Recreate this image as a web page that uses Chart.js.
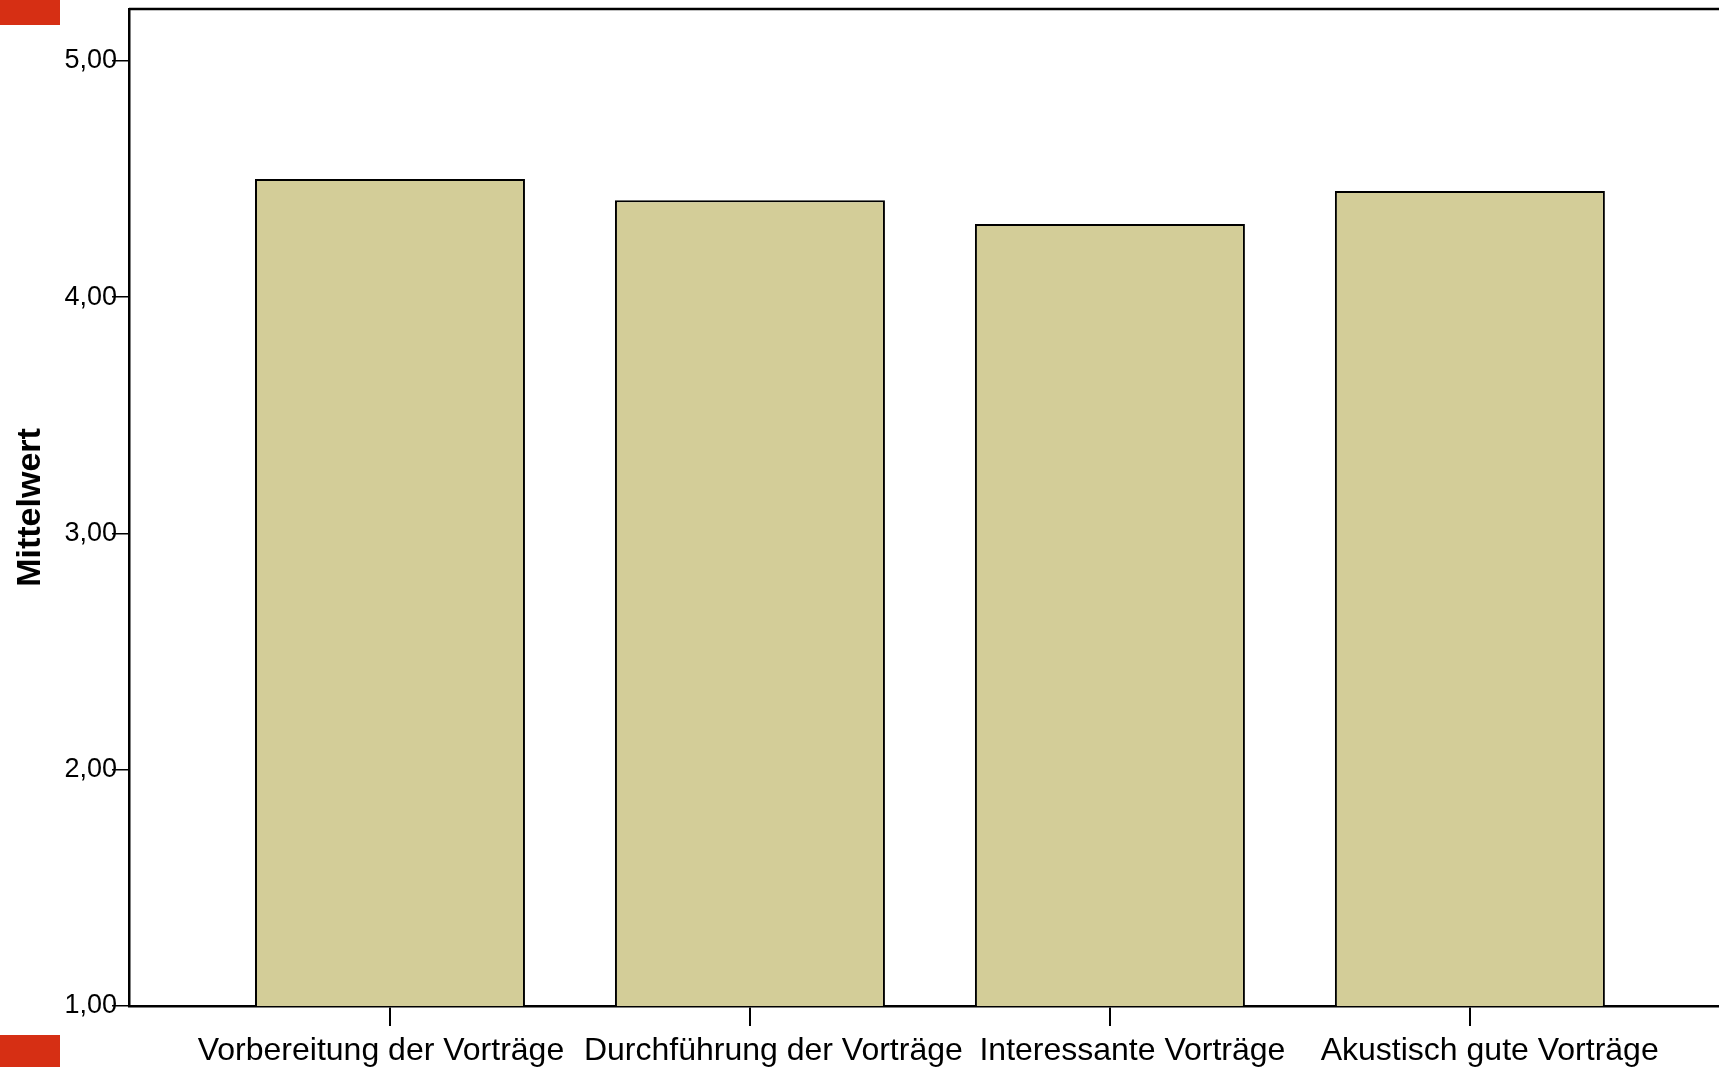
<!DOCTYPE html>
<html>
<head>
<meta charset="utf-8">
<script src="https://cdn.jsdelivr.net/npm/chart.js@4"></script>
<style>
  html, body { margin: 0; padding: 0; background: #fff; overflow: hidden; }
  #wrap { position: relative; width: 1719px; height: 1067px; }
  .mark { position: absolute; left: 0; width: 60px; background: #d62f14; }
</style>
</head>
<body>
<div id="wrap">
  <canvas id="meanChart"></canvas>
  <div class="mark" style="top:0;height:25px"></div>
  <div class="mark" style="top:1035px;height:32px"></div>
</div>
<script>
// chart data
const categories = ['Vorbereitung der Vorträge', 'Durchführung der Vorträge', 'Interessante Vorträge', 'Akustisch gute Vorträge'];
const meanValues = [4.50, 4.41, 4.31, 4.45];
const yTicks = [1, 2, 3, 4, 5];

const fontFamily = '"Liberation Sans", Arial, sans-serif';
// labels are nudged sideways a little so neighbours do not collide (as in the original)
const labelNudge = [-0.025, 0.065, 0.0625, 0.055];

// top border of the plot frame
const frameTop = {
    id: 'frameTop',
    afterDraw(chart) {
        const { ctx, chartArea } = chart;
        ctx.save();
        ctx.strokeStyle = '#000';
        ctx.lineWidth = 2.5;
        ctx.beginPath();
        ctx.moveTo(chartArea.left, chartArea.top);
        ctx.lineTo(chartArea.right, chartArea.top);
        ctx.stroke();
        ctx.restore();
    }
};

const xMin = -0.725, xMax = 3.692;

const ctx = document.getElementById('meanChart').getContext('2d');
new Chart(ctx, {
    type: 'bar',
    data: {
        datasets: [{
            label: 'Mittelwert',
            data: categories.map((c, i) => ({ x: i, y: meanValues[i] })),
            backgroundColor: '#d3cd98',
            borderColor: '#000',
            borderWidth: 2,
            categoryPercentage: 1,
            barPercentage: 0.75
        }]
    },
    options: {
        responsive: true,
        maintainAspectRatio: false,
        animation: false,
        layout: { padding: { top: 9, left: 0, right: 0, bottom: 0 } },
        plugins: {
            legend: { display: false },
            tooltip: { enabled: false }
        },
        scales: {
            x: {
                type: 'linear',
                offset: false,
                min: xMin,
                max: xMax,
                weight: 0,
                afterBuildTicks: (scale) => {
                    scale.ticks = categories.map((c, i) => ({ value: i }));
                },
                afterFit: (scale) => {
                    scale.height = 20;
                    scale.paddingLeft = 0;
                    scale.paddingRight = 0;
                },
                grid: {
                    offset: false,
                    drawOnChartArea: false,
                    drawTicks: true,
                    tickLength: 20,
                    color: '#000',
                    lineWidth: 2
                },
                border: { display: true, color: '#000', width: 2.5 },
                ticks: { display: false }
            },
            xLabels: {
                type: 'linear',
                position: 'bottom',
                offset: false,
                min: xMin,
                max: xMax,
                weight: 1,
                afterBuildTicks: (scale) => {
                    scale.ticks = categories.map((c, i) => ({ value: i + labelNudge[i] }));
                },
                afterFit: (scale) => {
                    scale.height = 41;
                    scale.paddingLeft = 0;
                    scale.paddingRight = 0;
                },
                grid: { display: false, drawTicks: false, offset: false },
                border: { display: false },
                ticks: {
                    autoSkip: false,
                    maxRotation: 0,
                    minRotation: 0,
                    padding: 6,
                    color: '#000',
                    font: { family: fontFamily, size: 32 },
                    callback: (value, index) => categories[index]
                }
            },
            y: {
                min: 1,
                max: 5.22,
                afterBuildTicks: (scale) => {
                    scale.ticks = yTicks.map(v => ({ value: v }));
                },
                afterFit: (scale) => {
                    scale.width = 129;
                    scale.paddingTop = 0;
                    scale.paddingBottom = 0;
                },
                grid: {
                    drawOnChartArea: false,
                    drawTicks: true,
                    tickLength: 17,
                    color: '#000',
                    lineWidth: 1.5
                },
                border: { display: true, color: '#000', width: 2.5 },
                ticks: {
                    padding: -5,
                    color: '#000',
                    font: { family: fontFamily, size: 27 },
                    callback: (value) => value.toFixed(2).replace('.', ',')
                },
                title: {
                    display: true,
                    text: 'Mittelwert',
                    color: '#000',
                    padding: { top: 10, bottom: 0 },
                    font: { family: fontFamily, size: 34, weight: 'bold' }
                }
            }
        }
    },
    plugins: [frameTop]
});
</script>
</body>
</html>
